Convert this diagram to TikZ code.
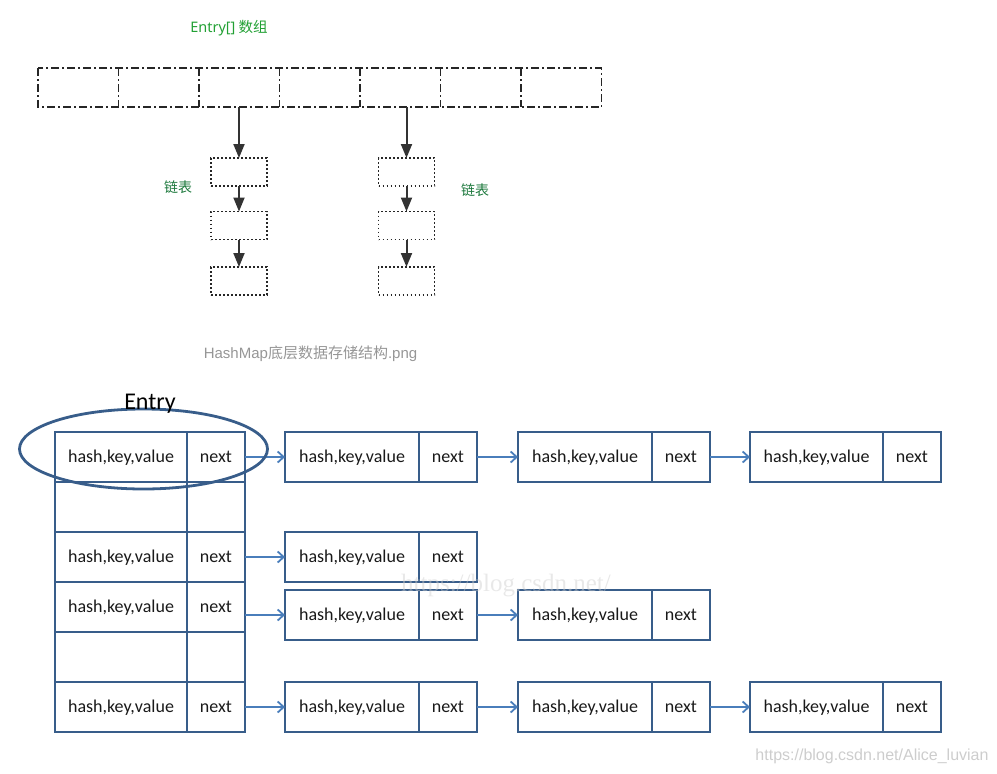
\documentclass[tikz,border=0pt]{standalone}
\usepackage{fontspec}
\setmainfont{Carlito}
\newfontfamily\cjk{Noto Sans CJK SC}
\newfontfamily\arialf{Liberation Sans}
\newfontfamily\timesf{Liberation Serif}
\newfontfamily\nsans{Noto Sans}
\usetikzlibrary{arrows.meta,shapes.geometric}
\definecolor{boxblue}{RGB}{56,93,138}
\definecolor{arrblue}{RGB}{74,126,187}
\definecolor{entrygreen}{RGB}{34,160,52}
\definecolor{chaingreen}{RGB}{28,120,60}
\definecolor{capgray}{RGB}{150,150,150}
\definecolor{wmgray}{RGB}{205,205,205}
\newcommand\entrypair[4]{%
  \node[hk, minimum width=#4pt, anchor=west] (#1k) at (#2,#3) {hash,key,value};
  \node[nx, anchor=west] (#1n) at (#1k.east) {next};}
\begin{document}
\begin{tikzpicture}[x=1pt,y=-1pt,
  arrcell/.style={minimum width=80.5pt, minimum height=39pt, inner sep=0pt, outer sep=0pt},
  arrline/.style={draw=black!85, line width=1.6pt, dash pattern=on 8pt off 3pt on 2pt off 3pt},
  dotbox/.style={draw=black!85, line width=1.6pt, dash pattern=on 1.6pt off 2.4pt,
    minimum width=56pt, minimum height=28pt, inner sep=0pt, outer sep=0pt},
  darrow/.style={draw=black!80, line width=2pt, -{Triangle[length=14pt,width=11pt]}},
  hk/.style={draw=boxblue, line width=2.7pt, minimum width=133pt, minimum height=50pt,
    inner sep=0pt, outer sep=0pt, text height=12pt, text depth=2pt,
    font=\fontsize{18}{21}\selectfont, text=black!90},
  nx/.style={hk, minimum width=58pt},
  barrow/.style={draw=arrblue, line width=1.8pt, -{Straight Barb[length=6pt,width=11pt]}},
  lbl/.style={inner sep=0pt}
]
\useasboundingbox (0,0) rectangle (997,774);

% ---------- top: Entry[] array ----------
\node[lbl, text=entrygreen, font=\fontsize{14.5}{17}\selectfont] (title) at (229,28) {{\nsans Entry[]} {\cjk 数组}};
\foreach \i in {1,...,7}{
  \node[arrcell] (a\i) at ({38+80.5*(\i-0.5)},87.5) {};
}
\draw[arrline] (a1.north west) rectangle (a7.south east);
\foreach \i in {1,...,6}{
  \draw[arrline] (a\i.north east) -- (a\i.south east);
}
% left chain
\node[dotbox] (l11) at (239,172) {};
\node[dotbox] (l12) at (239,225.5) {};
\node[dotbox] (l13) at (239,281) {};
% right chain
\node[dotbox] (l21) at (406.5,172) {};
\node[dotbox] (l22) at (406.5,225.5) {};
\node[dotbox] (l23) at (406.5,281) {};

\draw[darrow] (l11.north |- a3.south) -- (l11.north);
\draw[darrow] (l11.south) -- (l12.north);
\draw[darrow] (l12.south) -- (l13.north);
\draw[darrow] (l21.north |- a5.south) -- (l21.north);
\draw[darrow] (l21.south) -- (l22.north);
\draw[darrow] (l22.south) -- (l23.north);

\node[lbl, text=chaingreen, font=\cjk\fontsize{14}{16}\selectfont] (ll1) at (178,187) {链表};
\node[lbl, text=chaingreen, font=\cjk\fontsize{14}{16}\selectfont] (ll2) at (475,190) {链表};

\node[lbl, text=capgray, font=\fontsize{15}{18}\selectfont] (cap) at (310.5,354)
  {{\arialf HashMap}{\cjk 底层数据存储结构}{\arialf .png}};

% ---------- bottom: table ----------
\entrypair{r1}{55}{457}{132}
\node[hk, minimum width=132pt, anchor=west] (r2k) at (55,507) {};
\node[nx, anchor=west] (r2n) at (r2k.east) {};
\entrypair{r3}{55}{557}{132}
\entrypair{r4}{55}{607}{132}
\node[hk, minimum width=132pt, anchor=west] (r5k) at (55,657) {};
\node[nx, anchor=west] (r5n) at (r5k.east) {};
\entrypair{r6}{55}{707}{132}

% chains
\entrypair{c11}{285}{457}{134}
\entrypair{c12}{518}{457}{134}
\entrypair{c13}{750}{457}{133}
\entrypair{c31}{285}{557}{134}
\entrypair{c41}{285}{615}{134}
\entrypair{c42}{518}{615}{134}
\entrypair{c61}{285}{707}{134}
\entrypair{c62}{518}{707}{134}
\entrypair{c63}{750}{707}{133}

\draw[barrow] (r1n.east) -- (c11k.west);
\draw[barrow] (c11n.east) -- (c12k.west);
\draw[barrow] (c12n.east) -- (c13k.west);
\draw[barrow] (r3n.east) -- (c31k.west);
\draw[barrow] (c41k.west -| r4n.east) -- (c41k.west);
\draw[barrow] (c41n.east) -- (c42k.west);
\draw[barrow] (r6n.east) -- (c61k.west);
\draw[barrow] (c61n.east) -- (c62k.west);
\draw[barrow] (c62n.east) -- (c63k.west);

% Entry ellipse
\node[ellipse, draw=boxblue, line width=2.8pt, minimum width=248pt, minimum height=80pt, inner sep=0pt] (ell) at (143.5,449) {};
\node[lbl, font=\fontsize{24}{28}\selectfont, text=black] (entry) at (150,404) {Entry};

% watermarks
\node[lbl, text=wmgray, opacity=0.45, font=\timesf\fontsize{25}{28}\selectfont] (wm1) at (506,586) {https://blog.csdn.net/};
\node[lbl, text=wmgray, font=\arialf\fontsize{16}{19}\selectfont] (wm2) at (872,756) {https://blog.csdn.net/Alice\_luvian};
\end{tikzpicture}
\end{document}
